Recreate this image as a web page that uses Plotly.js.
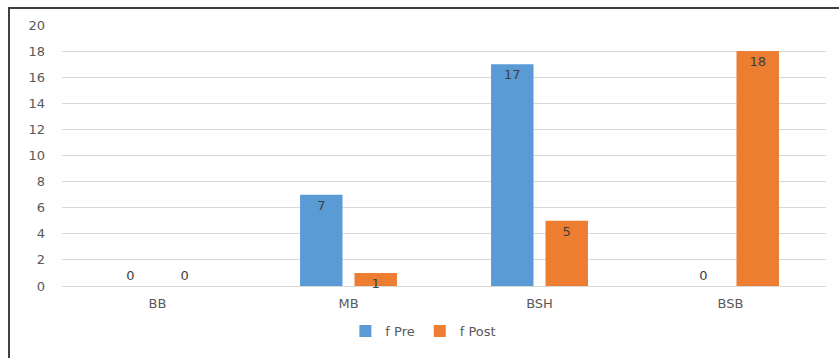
<!DOCTYPE html>
<html>
<head>
<meta charset="utf-8">
<script src="https://cdn.plot.ly/plotly-3.0.1.min.js"></script>
<style>
  html, body { margin: 0; padding: 0; background: #fff; }
  #wrap { position: relative; width: 839px; height: 358px; }
  #chart { width: 839px; height: 358px; }
  #frame { position: absolute; left: 8px; top: 7px; right: 0; bottom: 0;
           border-top: 2px solid #404040; border-left: 2px solid #404040; pointer-events: none; }
</style>
</head>
<body>
<div id="wrap">
  <div id="chart"></div>
  <div id="frame"></div>
</div>
<script>
const categories = ["BB", "MB", "BSH", "BSB"];
const fPre = [0, 7, 17, 0];
const fPost = [0, 1, 5, 18];
const seriesNames = ["f Pre", "f Post"];
const yTicks = [0, 2, 4, 6, 8, 10, 12, 14, 16, 18, 20];

const font = "'DejaVu Sans', 'Open Sans', sans-serif";
function pos(vals) { return vals.map(v => v === 0 ? "outside" : "inside"); }

const traces = [
  { type: "bar", name: seriesNames[0], x: categories, y: fPre,
    marker: { color: "#5B9BD5" },
    text: fPre.map(String), textposition: pos(fPre), insidetextanchor: "end", constraintext: "none",
    textangle: 0,
    textfont: { family: font, size: 13, color: "#404040" }, cliponaxis: false },
  { type: "bar", name: seriesNames[1], x: categories, y: fPost,
    marker: { color: "#ED7D31" },
    text: fPost.map(String), textposition: pos(fPost), insidetextanchor: "end", constraintext: "none",
    textangle: 0,
    textfont: { family: font, size: 13, color: "#404040" }, cliponaxis: false }
];

const layout = {
  width: 839, height: 358,
  margin: { l: 62, r: 13, t: 25, b: 67 },
  paper_bgcolor: "#fff", plot_bgcolor: "#fff",
  font: { family: font, size: 13, color: "#595959" },
  barmode: "group", bargap: 0.43, bargroupgap: 0.22,
  showlegend: true,
  legend: { orientation: "h", x: 0.473, xanchor: "center", y: -0.173, yanchor: "middle",
            font: { family: font, size: 13, color: "#595959" }, traceorder: "normal" },
  xaxis: { type: "category", showgrid: false, zeroline: false, showline: false, automargin: false,
           ticks: "", ticklabelstandoff: 8, tickfont: { size: 13, color: "#595959" } },
  yaxis: { range: [0, 20], tickvals: yTicks, showgrid: true, gridcolor: "#D9D9D9", gridwidth: 1,
           zeroline: true, zerolinecolor: "#D9D9D9", zerolinewidth: 1, showline: false, automargin: false,
           ticks: "", ticklabelstandoff: 16, tickfont: { size: 13, color: "#595959" } }
};

Plotly.newPlot("chart", traces, layout, { displayModeBar: false, staticPlot: true });
</script>
</body>
</html>
